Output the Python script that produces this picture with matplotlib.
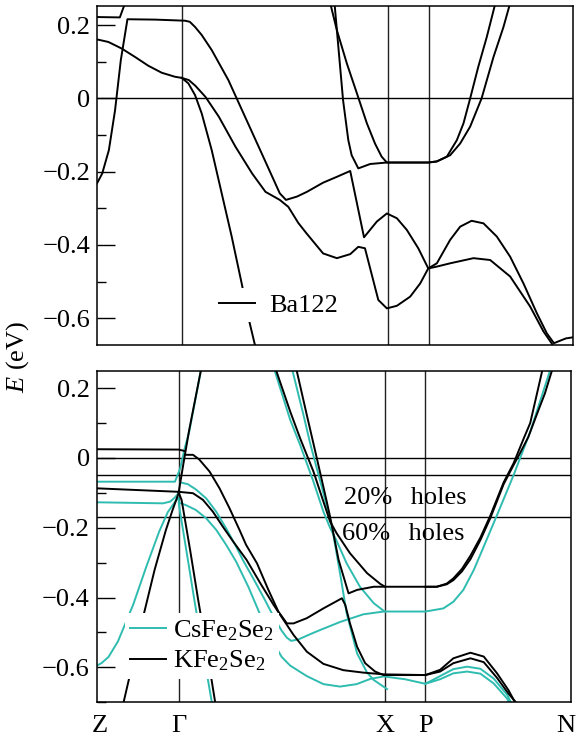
import matplotlib
matplotlib.use("Agg")
import matplotlib.pyplot as plt
from matplotlib.ticker import MultipleLocator

plt.rcParams['font.family'] = ['Liberation Serif', 'DejaVu Serif']
plt.rcParams['mathtext.fontset'] = 'custom'
plt.rcParams['mathtext.rm'] = 'Liberation Serif'
plt.rcParams['mathtext.it'] = 'Liberation Serif:italic'
plt.rcParams['mathtext.bf'] = 'Liberation Serif:bold'

TEAL = '#2fbcb0'

# ---------------- data ----------------
kpoint_labels = ['Z', 'Γ', 'X', 'P', 'N']
kpoints_top = [0.0, 0.178, 0.611, 0.698, 1.0]
kpoints_bottom = [0.0, 0.173, 0.608, 0.693, 1.0]
kpoint_label_pos = [0.007, 0.173, 0.608, 0.693, 0.988]

fermi_top = [0.0]
fermi_bottom = [0.0, -0.05, -0.168]

# Ba122 bands (k, E)
ba_band1 = [(0, .161), (.024, .154), (.052, .136), (.080, .113), (.108, .089), (.136, .070),
            (.164, .059), (.178, .056), (.193, .050), (.207, .034), (.228, .004), (.256, -.050),
            (.291, -.132), (.326, -.205), (.354, -.255), (.384, -.277), (.402, -.296), (.423, -.34),
            (.440, -.368), (.475, -.423), (.504, -.436), (.532, -.425), (.549, -.405), (.563, -.409),
            (.591, -.550), (.609, -.573), (.630, -.566), (.658, -.541), (.679, -.505), (.696, -.464),
            (.714, -.459), (.742, -.450), (.791, -.436), (.826, -.441), (.868, -.486), (.910, -.568),
            (.938, -.636), (.955, -.668), (.965, -.69)]
ba_band2 = [(0, -.232), (.011, -.205), (.025, -.141), (.038, -.032), (.050, .104), (.064, .216),
            (.122, .215), (.185, .212), (.195, .209), (.206, .195), (.220, .173), (.241, .132),
            (.276, .050), (.311, -.050), (.346, -.150), (.384, -.259), (.397, -.277), (.420, -.268),
            (.441, -.255), (.475, -.230), (.504, -.214), (.532, -.198), (.561, -.379), (.588, -.336),
            (.609, -.314), (.630, -.327), (.651, -.359), (.675, -.409), (.696, -.464), (.714, -.450),
            (.742, -.386), (.763, -.350), (.787, -.334), (.812, -.341), (.840, -.377), (.868, -.432),
            (.896, -.505), (.924, -.586), (.945, -.641), (.96, -.668), (.985, -.655), (1.0, -.652)]
ba_band3 = [(0, .222), (.048, .221), (.059, .26)]
ba_band4 = [(.178, .056), (.192, .041), (.206, .009), (.220, -.041), (.241, -.141), (.262, -.259),
            (.283, -.377), (.304, -.505), (.321, -.614), (.335, -.69)]
ba_band5 = [(.499, .26), (.504, .186), (.517, -.005), (.528, -.114), (.535, -.155), (.549, -.191),
            (.574, -.179), (.609, -.175), (.696, -.175), (.714, -.172), (.735, -.159), (.756, -.114),
            (.770, -.068), (.784, 0), (.801, .086), (.819, .168), (.837, .26)]
ba_band6 = [(.490, .26), (.504, .186), (.525, .095), (.546, .014), (.567, -.068), (.584, -.123),
            (.598, -.159), (.609, -.175), (.696, -.175), (.714, -.172), (.742, -.155), (.763, -.123),
            (.784, -.077), (.808, 0), (.833, .113), (.854, .195), (.868, .26)]

# KFe2Se2 bands
k_band1 = [(0, .025), (.173, .024), (.185, .020)]
k_band2 = [(0, -.087), (.173, -.097)]
k_band3 = [(.173, -.097), (.183, -.015), (.195, .080), (.221, .26)]
k_band4 = [(.173, -.10), (.179, -.12), (.197, -.264), (.214, -.407), (.232, -.55), (.251, -.71)]
k_band5 = [(.173, -.10), (.160, -.149), (.146, -.206), (.132, -.273), (.122, -.321), (.098, -.455),
           (.070, -.622), (.055, -.71)]
k_band6 = [(.186, .009), (.203, .009), (.216, -.004), (.238, -.039), (.259, -.087), (.280, -.144),
           (.301, -.206), (.315, -.249), (.338, -.302), (.362, -.378), (.383, -.440), (.401, -.474),
           (.415, -.474), (.443, -.459), (.478, -.431), (.517, -.402), (.524, -.421), (.534, -.474),
           (.549, -.541), (.566, -.588), (.587, -.612), (.605, -.622), (.693, -.622), (.724, -.607),
           (.752, -.574), (.788, -.558), (.816, -.569), (.844, -.617), (.868, -.665), (.886, -.71)]
k_band7 = [(.173, -.097), (.203, -.101), (.224, -.120), (.245, -.154), (.266, -.197), (.288, -.240),
           (.316, -.292), (.345, -.359), (.373, -.421), (.394, -.464), (.415, -.507), (.443, -.555),
           (.478, -.590), (.520, -.608), (.562, -.615), (.605, -.620), (.693, -.622), (.724, -.612),
           (.752, -.588), (.788, -.574), (.816, -.585), (.844, -.630), (.868, -.675), (.89, -.71)]
k_band8 = [(.376, .26), (.408, .133), (.429, .056), (.457, -.039), (.478, -.125), (.492, -.182),
           (.506, -.216), (.534, -.273), (.570, -.330), (.598, -.361), (.608, -.369), (.693, -.369),
           (.717, -.369), (.738, -.360), (.752, -.345), (.770, -.318), (.788, -.28), (.809, -.228),
           (.830, -.165), (.858, -.07), (.879, -.015), (.90, .055), (.914, .10), (.941, .26)]
k_band9 = [(.693, -.369), (.717, -.369), (.738, -.362), (.752, -.35), (.770, -.325), (.788, -.29),
           (.809, -.235), (.830, -.172), (.858, -.075), (.879, -.02), (.893, .015), (.91, .06),
           (.928, .125), (.945, .185), (.962, .26)]
k_band10 = [(.420, .26), (.443, .123), (.464, 0), (.485, -.125), (.492, -.168), (.510, -.292),
            (.531, -.388), (.549, -.378), (.584, -.369), (.608, -.369)]

# CsFe2Se2 bands
cs_band1 = [(0, -.068), (.165, -.068), (.176, -.03), (.186, .03), (.195, .075), (.221, .26)]
cs_band2 = [(0, -.127), (.14, -.130), (.155, -.125), (.165, -.113), (.173, -.10)]
cs_band3 = [(0, -.595), (.01, -.588), (.025, -.570), (.045, -.525), (.077, -.42), (.105, -.31),
            (.132, -.21), (.150, -.155), (.167, -.122), (.173, -.115)]
cs_band4 = [(.173, -.12), (.174, -.14), (.190, -.273), (.207, -.416), (.225, -.56), (.244, -.71)]
cs_band5 = [(.176, -.07), (.192, -.075), (.209, -.090), (.231, -.116), (.252, -.154), (.273, -.202),
            (.294, -.254), (.308, -.292), (.33, -.345), (.352, -.40), (.373, -.455), (.39, -.495),
            (.401, -.515), (.41, -.524), (.425, -.52), (.45, -.505), (.471, -.493), (.513, -.470),
            (.562, -.448), (.605, -.440), (.693, -.440), (.731, -.431), (.752, -.412), (.773, -.378),
            (.795, -.321), (.816, -.254), (.847, -.154), (.879, -.049), (.914, .075), (.958, .26)]
cs_band6 = [(.173, -.128), (.188, -.135), (.209, -.149), (.231, -.173), (.252, -.206), (.273, -.249),
            (.294, -.297), (.32, -.37), (.345, -.45), (.373, -.53), (.39, -.57), (.408, -.595),
            (.443, -.625), (.478, -.648), (.513, -.655), (.548, -.648), (.577, -.633), (.605, -.626),
            (.65, -.634), (.693, -.647), (.724, -.634), (.752, -.617), (.781, -.612), (.809, -.618),
            (.837, -.646), (.865, -.689), (.873, -.71)]
cs_band7 = [(.693, -.647), (.724, -.625), (.752, -.605), (.781, -.598), (.809, -.604), (.837, -.632),
            (.865, -.678), (.877, -.71)]
cs_band8 = [(.373, .26), (.408, .109), (.429, .037), (.457, -.068), (.478, -.154), (.492, -.200),
            (.505, -.235), (.527, -.302), (.555, -.369), (.584, -.416), (.605, -.438), (.608, -.44)]
cs_band9 = [(.411, .26), (.436, .123), (.450, .042), (.478, -.101), (.496, -.197), (.513, -.330),
            (.527, -.445), (.549, -.560), (.570, -.615), (.584, -.636), (.612, -.662)]

ba_bands = [ba_band1, ba_band2, ba_band3, ba_band4, ba_band5, ba_band6]
k_bands = [k_band1, k_band2, k_band3, k_band4, k_band5, k_band6, k_band7, k_band8, k_band9, k_band10]
cs_bands = [cs_band1, cs_band2, cs_band3, cs_band4, cs_band5, cs_band6, cs_band7, cs_band8, cs_band9]

# ---------------- figure ----------------
fig = plt.figure(figsize=(5.79, 7.38), dpi=100)
ax1 = fig.add_axes([0.1675, 0.5325, 0.8221, 0.4593])
ax2 = fig.add_axes([0.167, 0.0484, 0.8192, 0.4493])

LW = 1.4
FS = 19


def style(ax, ylim, kp):
    ax.set_xlim(0, 1)
    ax.set_ylim(*ylim)
    ax.yaxis.set_major_locator(MultipleLocator(0.2))
    ax.yaxis.set_minor_locator(MultipleLocator(0.1))
    ax.yaxis.set_major_formatter(matplotlib.ticker.FuncFormatter(
        lambda v, p: '0' if abs(v) < 1e-9 else ('%.1f' % v).replace('-', '\u2212')))
    ax.tick_params(axis='y', which='major', direction='in', length=13, width=1.0,
                   labelsize=FS, pad=5, right=False)
    ax.tick_params(axis='y', which='minor', direction='in', length=6.5, width=1.0, right=False)
    for s in ax.spines.values():
        s.set_linewidth(1.1)
    for x in kp[1:4]:
        ax.axvline(x, color='#222222', lw=1.0, zorder=1)


style(ax1, (-0.673, 0.252), kpoints_top)
style(ax2, (-0.70, 0.25), kpoints_bottom)

for y in fermi_top:
    ax1.axhline(y, color='black', lw=1.0, zorder=1)
for y in fermi_bottom:
    ax2.axhline(y, color='black', lw=1.0, zorder=1)

# top panel
for i, b in enumerate(ba_bands):
    ks, es = zip(*b)
    ax1.plot(ks, es, color='black', lw=LW, zorder=2, label='Ba122' if i == 0 else None)
ax1.set_xticks([])

leg1 = ax1.legend(loc='center left', bbox_to_anchor=(0.245, 0.117), fontsize=FS,
                  handlelength=1.35, handletextpad=0.55, borderpad=0.2,
                  frameon=True, fancybox=False, framealpha=1, facecolor='white',
                  edgecolor='none', borderaxespad=0)

# bottom panel
for i, b in enumerate(cs_bands):
    ks, es = zip(*b)
    ax2.plot(ks, es, color=TEAL, lw=LW, zorder=2, label='CsFe$_2$Se$_2$' if i == 0 else None)
for i, b in enumerate(k_bands):
    ks, es = zip(*b)
    ax2.plot(ks, es, color='black', lw=LW, zorder=2, label='KFe$_2$Se$_2$' if i == 0 else None)

ax2.set_xticks(kpoint_label_pos)
ax2.set_xticklabels(kpoint_labels)
ax2.tick_params(axis='x', length=0, labelsize=FS, pad=9)

leg2 = ax2.legend(loc='center left', bbox_to_anchor=(0.06, 0.17), fontsize=FS,
                  handlelength=1.35, handletextpad=0.25, borderpad=0.2, labelspacing=0.22,
                  frameon=True, fancybox=False, framealpha=1, facecolor='white',
                  edgecolor='none', borderaxespad=0)

ax2.text(0.522, -0.115, '20%  \u2009holes', fontsize=FS, va='center', ha='left', zorder=3)
ax2.text(0.517, -0.218, '60%  \u2009holes', fontsize=FS, va='center', ha='left', zorder=3)

fig.text(0.031, 0.516, '$E$ (eV)', rotation=90, fontsize=FS, va='center', ha='center')

fig.savefig('out.png', dpi=100)
